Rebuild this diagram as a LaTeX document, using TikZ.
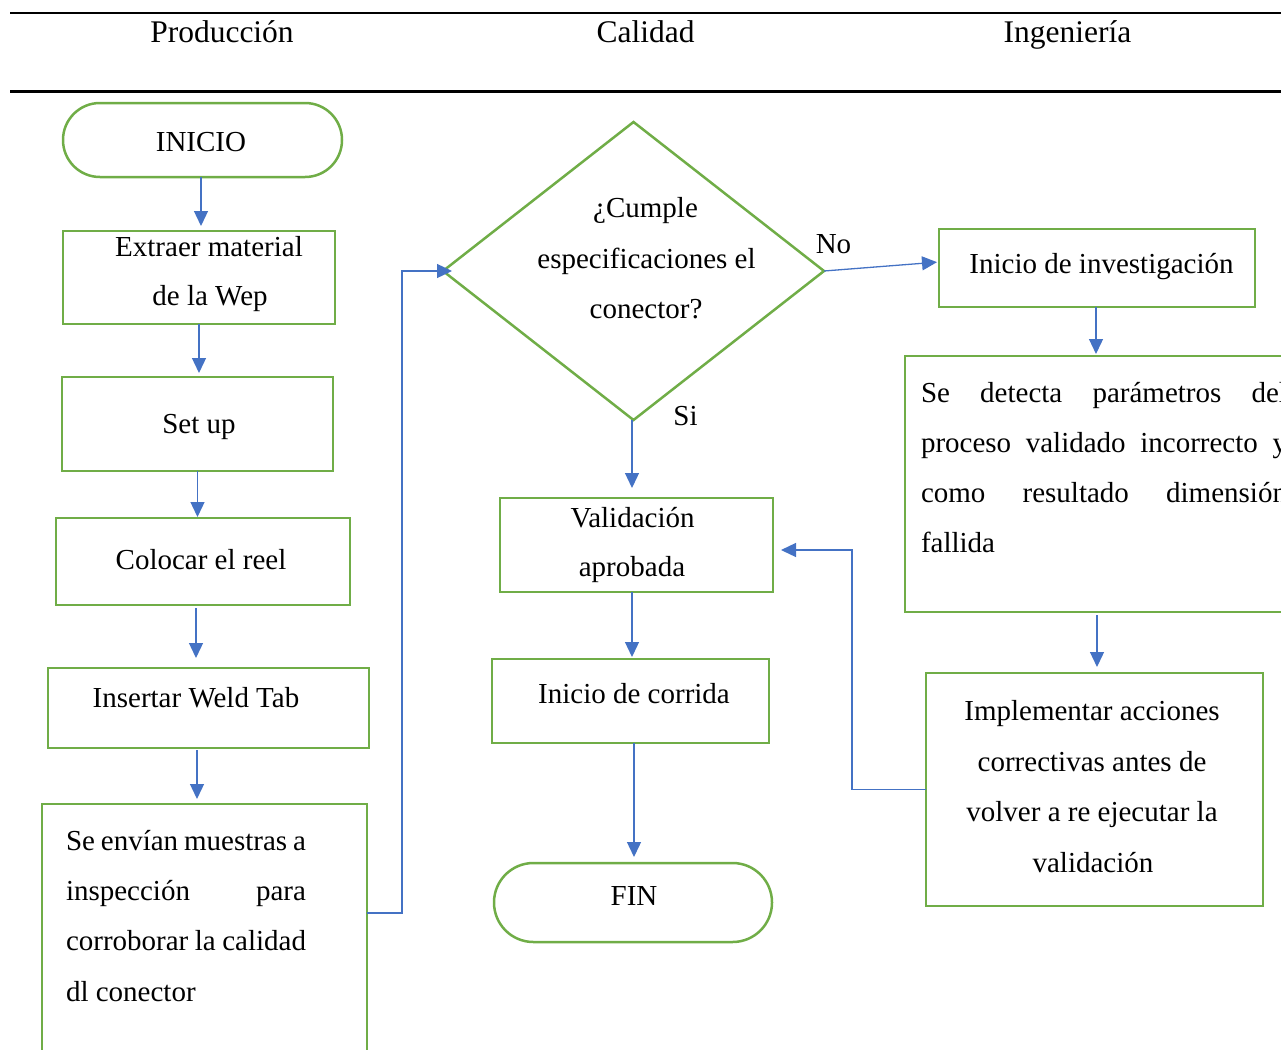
\documentclass[tikz,border=0pt]{standalone}
\usepackage{fontspec}
\setmainfont{Liberation Serif}
\usetikzlibrary{shapes.geometric,arrows.meta}
\definecolor{flowgreen}{HTML}{70AD47}
\definecolor{flowblue}{HTML}{4472C4}
\newcommand{\bodyfont}{\fontsize{29}{35}\selectfont}
\newcommand{\headfont}{\fontsize{31.5}{38}\selectfont}

\begin{document}
\begin{tikzpicture}[x=1pt,y=-1pt,
  box/.style={draw=flowgreen, line width=2.5pt, rectangle, inner sep=0pt, outer sep=0pt},
  decision/.style={draw=flowgreen, line width=2.5pt, diamond, inner sep=0pt, outer sep=0pt},
  lbl/.style={anchor=base, inner sep=0pt, outer sep=0pt, font=\bodyfont},
  lblleft/.style={anchor=base west, inner sep=0pt, outer sep=0pt, font=\bodyfont},
  head/.style={anchor=base, inner sep=0pt, font=\headfont},
  arr/.style={draw=flowblue, line width=1.3pt, -{Triangle[length=15pt,width=14pt]}},
  link/.style={draw=flowblue, line width=1.3pt}
]
\useasboundingbox (0,0) rectangle (1281,1049);
\clip (0,0) rectangle (1281,1049);

% swimlane header
\draw[line width=2.3pt] (10,13) -- (1281,13);
\draw[line width=2.3pt] (10,91.5) -- (1281,91.5);
\node[head] (hprod) at (222,43) {Producción};
\node[head] (hcal) at (645.5,43) {Calidad};
\node[head] (hing) at (1067.5,43) {Ingeniería};

% Producción column
\node[box, minimum width=279pt, minimum height=74pt, rounded corners=36.9pt] (inicio) at (202.5,140) {};
\node[lbl] (tinicio) at (201,151) {INICIO};

\node[box, minimum width=272pt, minimum height=93pt] (extraer) at (199,277.5) {};
\node[lbl] (textraer1) at (209,256) {Extraer material};
\node[lbl] (textraer2) at (210,305) {de la Wep};

\node[box, minimum width=271pt, minimum height=94pt] (setup) at (197.5,424) {};
\node[lbl] (tsetup) at (199,433) {Set up};

\node[box, minimum width=294pt, minimum height=87pt] (colocar) at (203,561.5) {};
\node[lbl] (tcolocar) at (201,569) {Colocar el reel};

\node[box, minimum width=321pt, minimum height=80pt] (insertar) at (208.5,708) {};
\node[lbl] (tinsertar) at (196,707) {Insertar Weld Tab};

\node[box, minimum width=325pt, minimum height=256pt] (envian) at (204.5,932) {};
\node[lblleft] (tenvian1) at (66,850) {\makebox[240pt][s]{Se envían muestras a}};
\node[lblleft] (tenvian2) at (66,900) {\makebox[240pt][s]{inspección\hfill para}};
\node[lblleft] (tenvian3) at (66,950) {\makebox[240pt][s]{corroborar la calidad}};
\node[lblleft] (tenvian4) at (66,1001) {dl conector};

% Calidad column
\node[decision, minimum width=381pt, minimum height=298pt] (cumple) at (633.5,271) {};
\node[lbl] (tcumple1) at (645.5,217) {¿Cumple};
\node[lbl] (tcumple2) at (646.5,268) {especificaciones el};
\node[lbl] (tcumple3) at (646,318) {conector?};
\node[lbl] (tno) at (833.5,253) {No};
\node[lbl] (tsi) at (685.5,425) {Si};

\node[box, minimum width=273pt, minimum height=94pt] (validacion) at (636.5,545) {};
\node[lbl] (tvalid1) at (632.5,527) {Validación};
\node[lbl] (tvalid2) at (632,576) {aprobada};

\node[box, minimum width=277pt, minimum height=84pt] (corrida) at (630.5,701) {};
\node[lbl] (tcorrida) at (634,703) {Inicio de corrida};

\node[box, minimum width=278pt, minimum height=79pt, rounded corners=39.4pt] (fin) at (633,902.5) {};
\node[lbl] (tfin) at (634,905) {FIN};

% Ingeniería column
\node[box, minimum width=316pt, minimum height=78pt] (investigacion) at (1097,268) {};
\node[lbl] (tinvest) at (1101.5,273) {Inicio de investigación};

\node[box, minimum width=397pt, minimum height=256pt] (detecta) at (1103.5,484) {};
\node[lblleft] (tdetecta1) at (921,402) {\makebox[366pt][s]{Se detecta parámetros del}};
\node[lblleft] (tdetecta2) at (921,452) {\makebox[366pt][s]{proceso validado incorrecto y}};
\node[lblleft] (tdetecta3) at (921,502) {\makebox[366pt][s]{como resultado dimensión}};
\node[lblleft] (tdetecta4) at (921,552) {fallida};

\node[box, minimum width=337pt, minimum height=233pt] (implementar) at (1094.5,789.5) {};
\node[lbl] (timpl1) at (1092,720) {Implementar acciones};
\node[lbl] (timpl2) at (1092,771) {correctivas antes de};
\node[lbl] (timpl3) at (1092,821) {volver a re ejecutar la};
\node[lbl] (timpl4) at (1093,872) {validación};

% connectors, Producción
\draw[arr, shorten >=5pt] ([xshift=-1.5pt]inicio.south) -- ([xshift=-1.5pt]inicio.south |- extraer.north);
\draw[arr, shorten >=4pt] (extraer.south) -- (extraer.south |- setup.north);
\draw[arr, shorten >=1pt] (setup.south) -- (setup.south |- colocar.north);
\draw[arr, shorten <=3pt, shorten >=10pt] ([xshift=-7pt]colocar.south) -- ([xshift=-7pt]colocar.south |- insertar.north);
\draw[arr, shorten <=2pt, shorten >=5pt] ([xshift=-11.5pt]insertar.south) -- ([xshift=-11.5pt]insertar.south |- envian.north);
\draw[arr, shorten >=-9pt] ([yshift=19pt]envian.east) -- ++(35,0) |- (cumple.west);

% connectors, Calidad
\draw[arr, shorten >=10pt] ([xshift=-1.5pt]cumple.south) -- ([xshift=-1.5pt]cumple.south |- validacion.north);
\draw[arr, shorten >=2pt] ([xshift=-4.5pt]validacion.south) -- ([xshift=-4.5pt]validacion.south |- corrida.north);
\draw[arr, shorten >=6pt] ([xshift=3.5pt]corrida.south) -- ([xshift=3.5pt]corrida.south |- fin.north);
\draw[arr, shorten >=2pt] (cumple.east) -- ([yshift=6pt]investigacion.west);

% connectors, Ingeniería
\draw[arr, shorten >=2pt] ([xshift=-1pt]investigacion.south) -- ([xshift=-1pt]investigacion.south |- detecta.north);
\draw[arr, shorten <=3pt, shorten >=6pt] ([xshift=-6.5pt]detecta.south) -- ([xshift=-6.5pt]detecta.south |- implementar.north);
\draw[arr, shorten >=8pt] (implementar.west) -- ++(-74,0) |- ([yshift=-5pt]validacion.east);
\end{tikzpicture}
\end{document}
